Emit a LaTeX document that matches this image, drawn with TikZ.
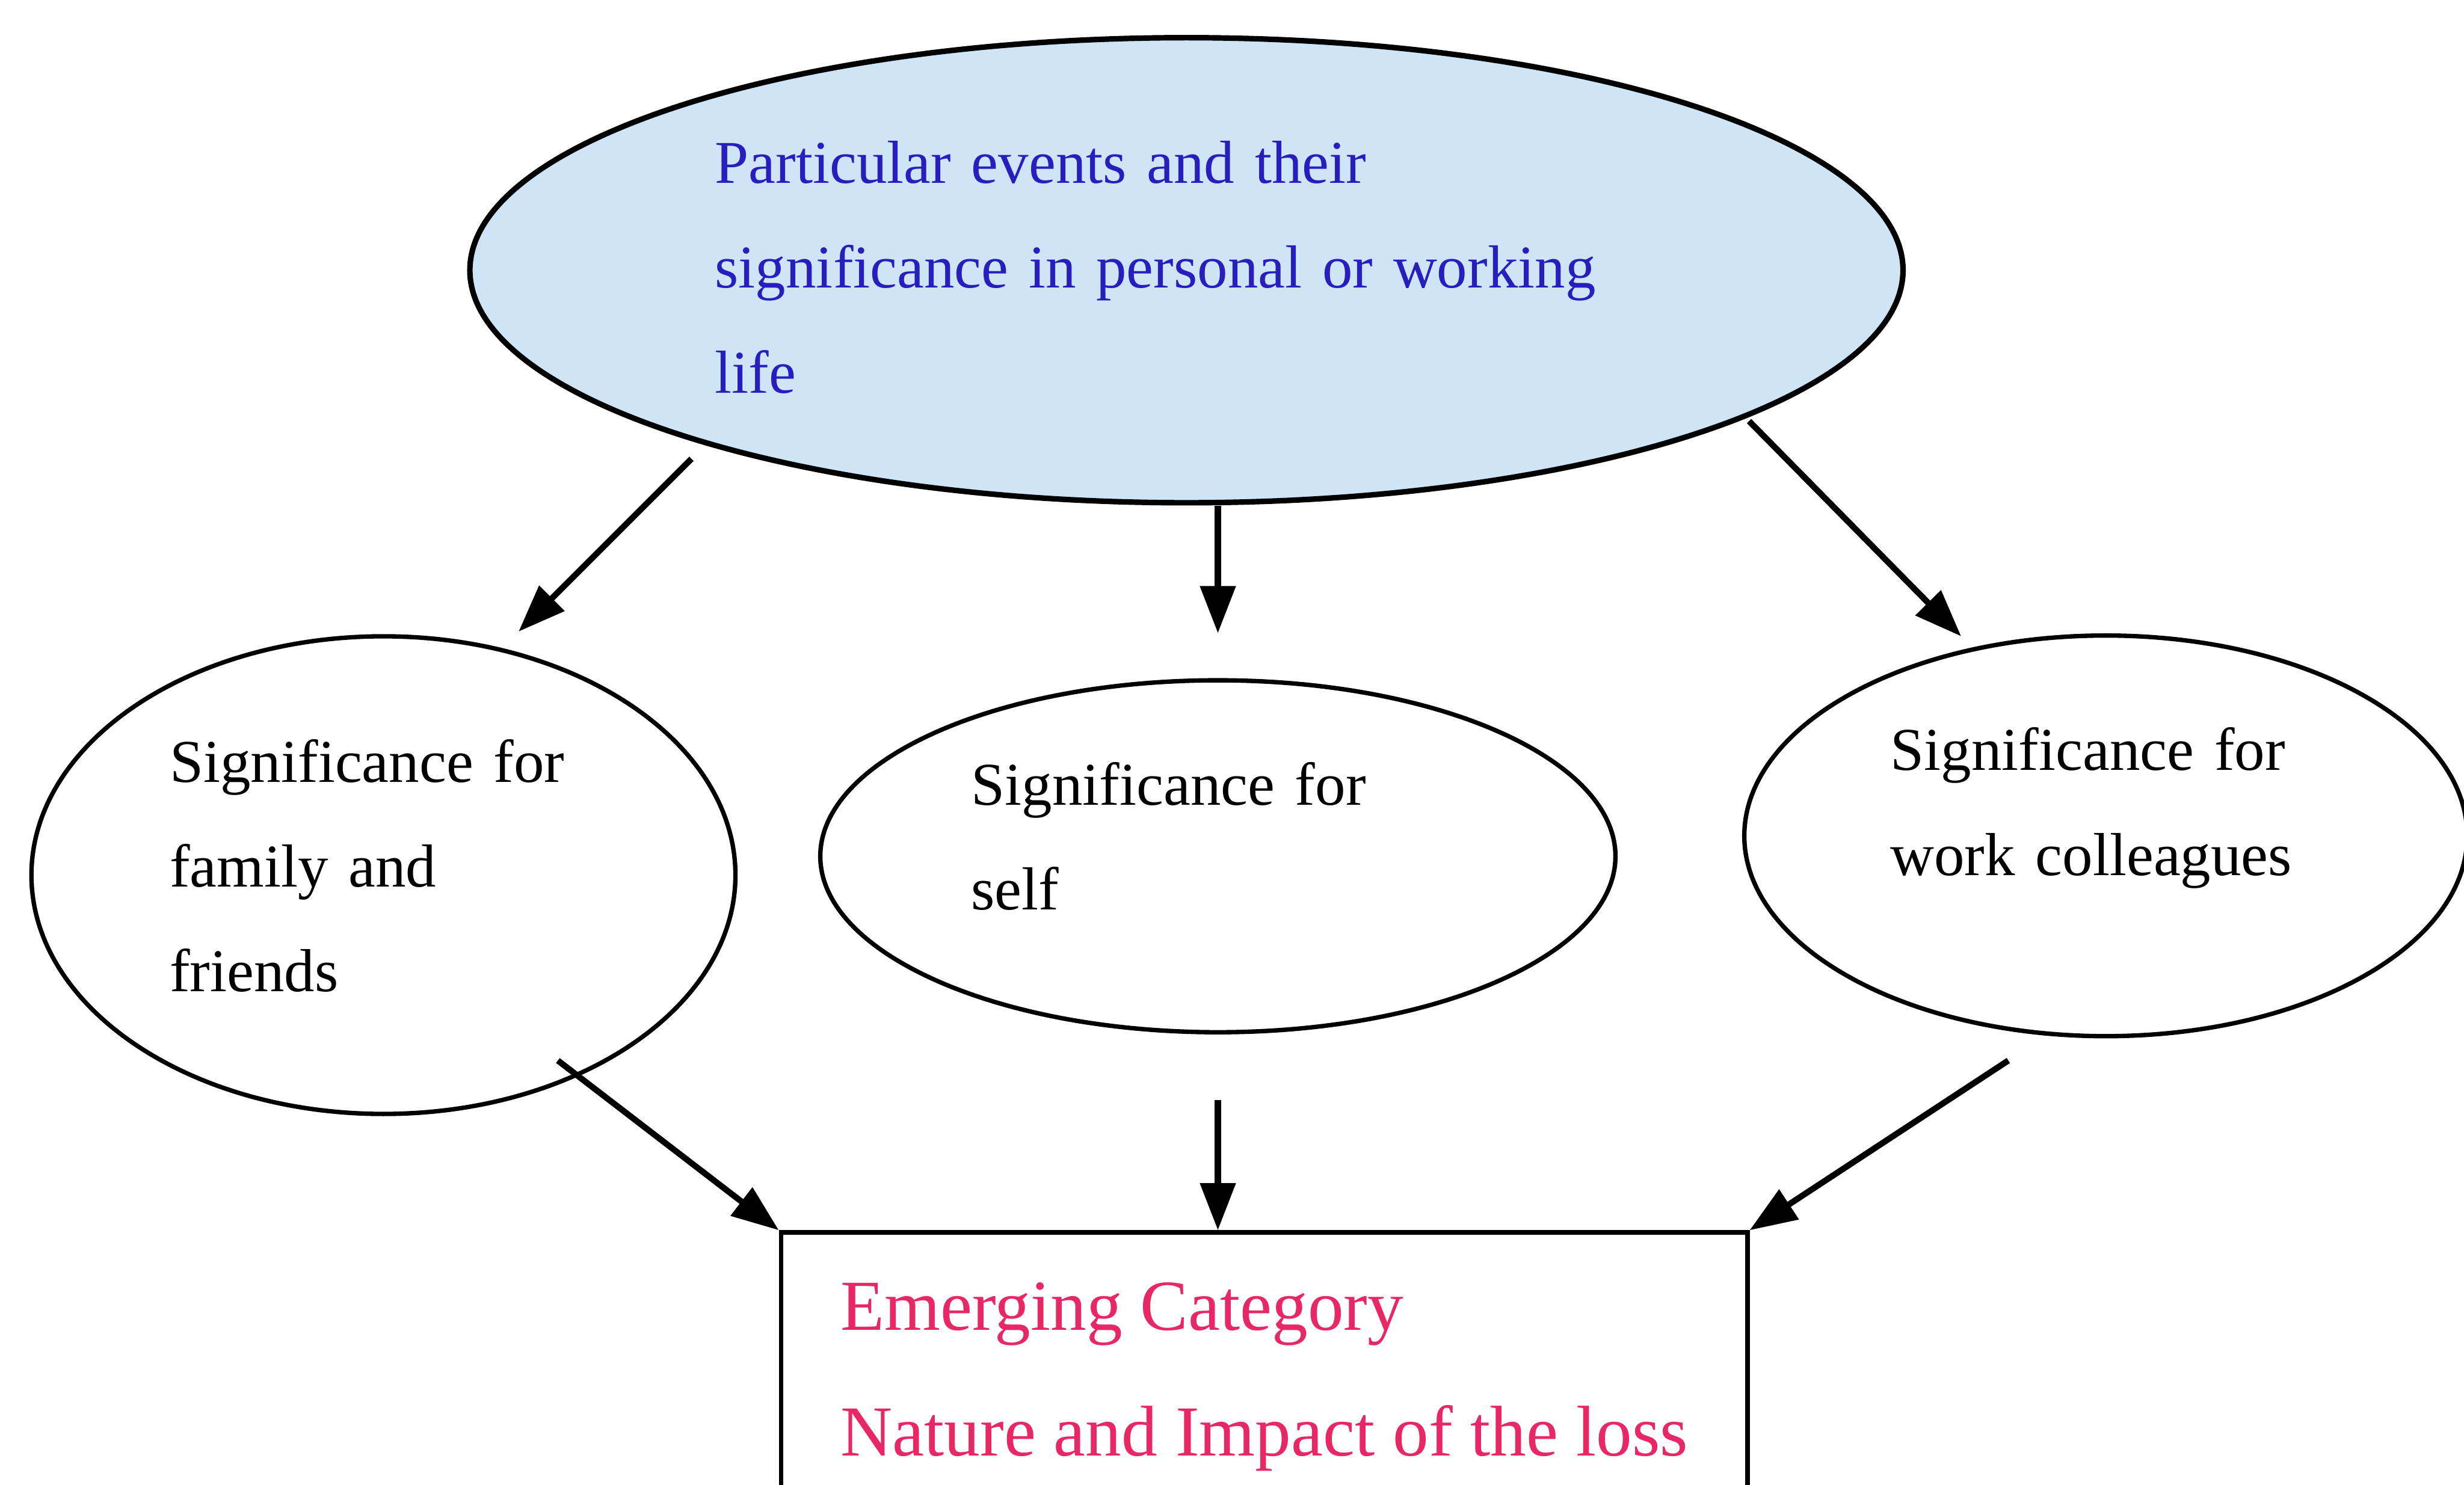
\documentclass[tikz,border=0pt]{standalone}
\usepackage{fontspec}
\setmainfont{Liberation Serif}
\usetikzlibrary{shapes.geometric,arrows.meta}
\definecolor{eventblue}{RGB}{40,30,190}
\definecolor{eventfill}{RGB}{206,228,247}
\definecolor{catpink}{RGB}{232,40,100}

\begin{document}
\begin{tikzpicture}[->,>={Triangle[length=3mm,width=2.2mm]},line width=1.1pt,
  main node/.style={ellipse,draw,line width=0.8pt,inner sep=0pt,align=left,
    font=\fontsize{11}{19}\selectfont}]
  \useasboundingbox (0,0) rectangle (15.68,-9.45);

  \node[main node,fill=eventfill,text=eventblue,line width=1pt,minimum width=9.12cm,
    minimum height=2.96cm,text width=6cm,text depth=39.2pt] (1) at (7.55,-1.72)
    {Particular events and their\\significance in personal or working\\life};
  \node[main node,minimum width=4.48cm,minimum height=3.04cm,text width=2.72cm,
    text depth=41.5pt] (2) at (2.44,-5.57)
    {Significance for\\family and\\friends};
  \node[main node,minimum width=5.06cm,minimum height=2.24cm,text width=3.14cm,
    text depth=26.3pt] (3) at (7.75,-5.45)
    {Significance for\\self};
  \node[main node,minimum width=4.6cm,minimum height=2.55cm,text width=2.74cm,
    text depth=31.5pt] (4) at (13.40,-5.32)
    {Significance for\\work colleagues};
  \node[draw,rectangle,line width=0.8pt,minimum width=6.15cm,minimum height=1.84cm,
    align=left,text=catpink,font=\fontsize{13}{22.7}\selectfont,
    anchor=north] (5) at (8.045,-7.83)
    {Emerging Category\\Nature and Impact of the loss};

\path
  ([shift={(-3.15,-1.20)}]1.center) edge ([shift={(0.86,1.55)}]2.center)
  ([shift={(0.20,-1.50)}]1.center) edge ([shift={(0,1.42)}]3.center)
  ([shift={(3.58,-0.96)}]1.center) edge ([shift={(-0.92,1.27)}]4.center)
  ([shift={(1.11,-1.18)}]2.center) edge (5.north west)
  ([shift={(0,-1.55)}]3.center) edge (3.center |- 5.north)
  ([shift={(-0.62,-1.43)}]4.center) edge (5.north east);
\end{tikzpicture}
\end{document}
